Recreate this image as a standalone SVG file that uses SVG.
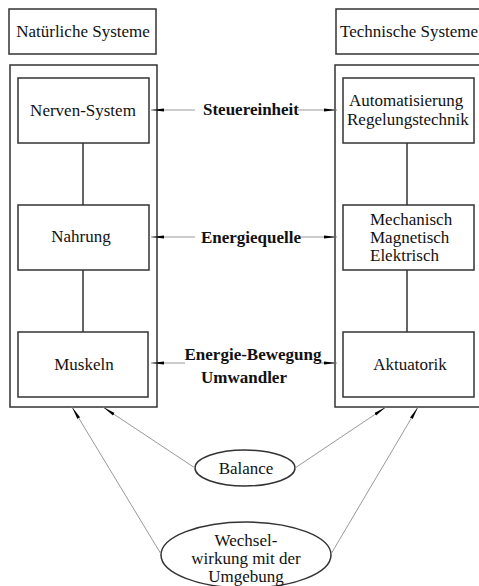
<svg xmlns="http://www.w3.org/2000/svg" width="479" height="586" viewBox="0 0 479 586">
<defs>
<style>
.box{fill:#fff;stroke:#333;stroke-width:1.5}
.line{stroke:#333;stroke-width:1.5;fill:none}
.con{stroke:#999;stroke-width:1;fill:none}
text{font-family:"Times New Roman","Liberation Serif",Times,serif;font-size:17px;fill:#111;text-anchor:middle}
.l{text-anchor:start}
.b{font-weight:bold}
</style>
<marker id="ah" markerWidth="14" markerHeight="6" refX="13" refY="3" orient="auto" markerUnits="userSpaceOnUse">
<path d="M0,1.5 L13,3 L0,4.5 Z" fill="#000"/>
</marker>
</defs>
<rect width="479" height="586" fill="#fff"/>
<g id="natuerliche">
<rect class="box" x="9" y="9" width="147" height="45"/>
<text x="83" y="37">Natürliche Systeme</text>
</g>
<g id="technische">
<rect class="box" x="336" y="9" width="150" height="45"/>
<text class="l" x="340" y="37">Technische Systeme</text>
</g>
<g id="natuerlich-rahmen">
<rect class="box" x="10" y="65" width="147" height="342"/>
</g>
<g id="technisch-rahmen">
<rect class="box" x="335" y="65" width="150" height="342"/>
</g>
<g id="inner-lines">
<line class="line" x1="83" y1="143" x2="83" y2="205"/>
<line class="line" x1="83" y1="270" x2="83" y2="332"/>
<line class="line" x1="407" y1="143" x2="407" y2="205"/>
<line class="line" x1="407" y1="270" x2="407" y2="332"/>
</g>
<g id="nerven">
<rect class="box" x="18" y="78" width="131" height="65"/>
<text x="83" y="116">Nerven-System</text>
</g>
<g id="automatisierung">
<rect class="box" x="343" y="78" width="131" height="65"/>
<text class="l" x="349" y="106">Automatisierung</text>
<text class="l" x="347" y="125">Regelungstechnik</text>
</g>
<g id="nahrung">
<rect class="box" x="18" y="205" width="131" height="65"/>
<text x="81" y="242">Nahrung</text>
</g>
<g id="mechanisch">
<rect class="box" x="343" y="205" width="131" height="65"/>
<text class="l" x="370" y="225">Mechanisch</text>
<text class="l" x="370" y="243">Magnetisch</text>
<text class="l" x="370" y="261">Elektrisch</text>
</g>
<g id="muskeln">
<rect class="box" x="18" y="332" width="130" height="65"/>
<text x="84" y="370">Muskeln</text>
</g>
<g id="aktuatorik">
<rect class="box" x="343" y="332" width="131" height="65"/>
<text x="410" y="370">Aktuatorik</text>
</g>
<g id="balance">
<ellipse class="box" cx="245" cy="468" rx="50" ry="18"/>
<text x="246" y="474">Balance</text>
</g>
<g id="wechselwirkung">
<ellipse class="box" cx="246" cy="555" rx="85" ry="33"/>
<text x="246" y="546">Wechsel-</text>
<text x="246" y="564">wirkung mit der</text>
<text x="246" y="582">Umgebung</text>
</g>
<g id="connectors">
<line class="con" x1="195" y1="110" x2="151" y2="110" marker-end="url(#ah)"/>
<line class="con" x1="298" y1="110" x2="337" y2="110" marker-end="url(#ah)"/>
<line class="con" x1="195" y1="237" x2="151" y2="237" marker-end="url(#ah)"/>
<line class="con" x1="300" y1="237" x2="337" y2="237" marker-end="url(#ah)"/>
<line class="con" x1="185" y1="363" x2="151" y2="363" marker-end="url(#ah)"/>
<line class="con" x1="320" y1="363" x2="337" y2="363" marker-end="url(#ah)"/>
<line class="con" x1="195" y1="468" x2="103" y2="407" marker-end="url(#ah)"/>
<line class="con" x1="295" y1="468" x2="386" y2="407" marker-end="url(#ah)"/>
<line class="con" x1="161" y1="554" x2="72" y2="407" marker-end="url(#ah)"/>
<line class="con" x1="331" y1="554" x2="418" y2="407" marker-end="url(#ah)"/>
</g>
<g id="labels">
<text class="b" x="251" y="115">Steuereinheit</text>
<text class="b" x="251" y="243">Energiequelle</text>
<text class="b" x="253" y="360">Energie-Bewegung</text>
<text class="b" x="244" y="383">Umwandler</text>
</g>
</svg>
